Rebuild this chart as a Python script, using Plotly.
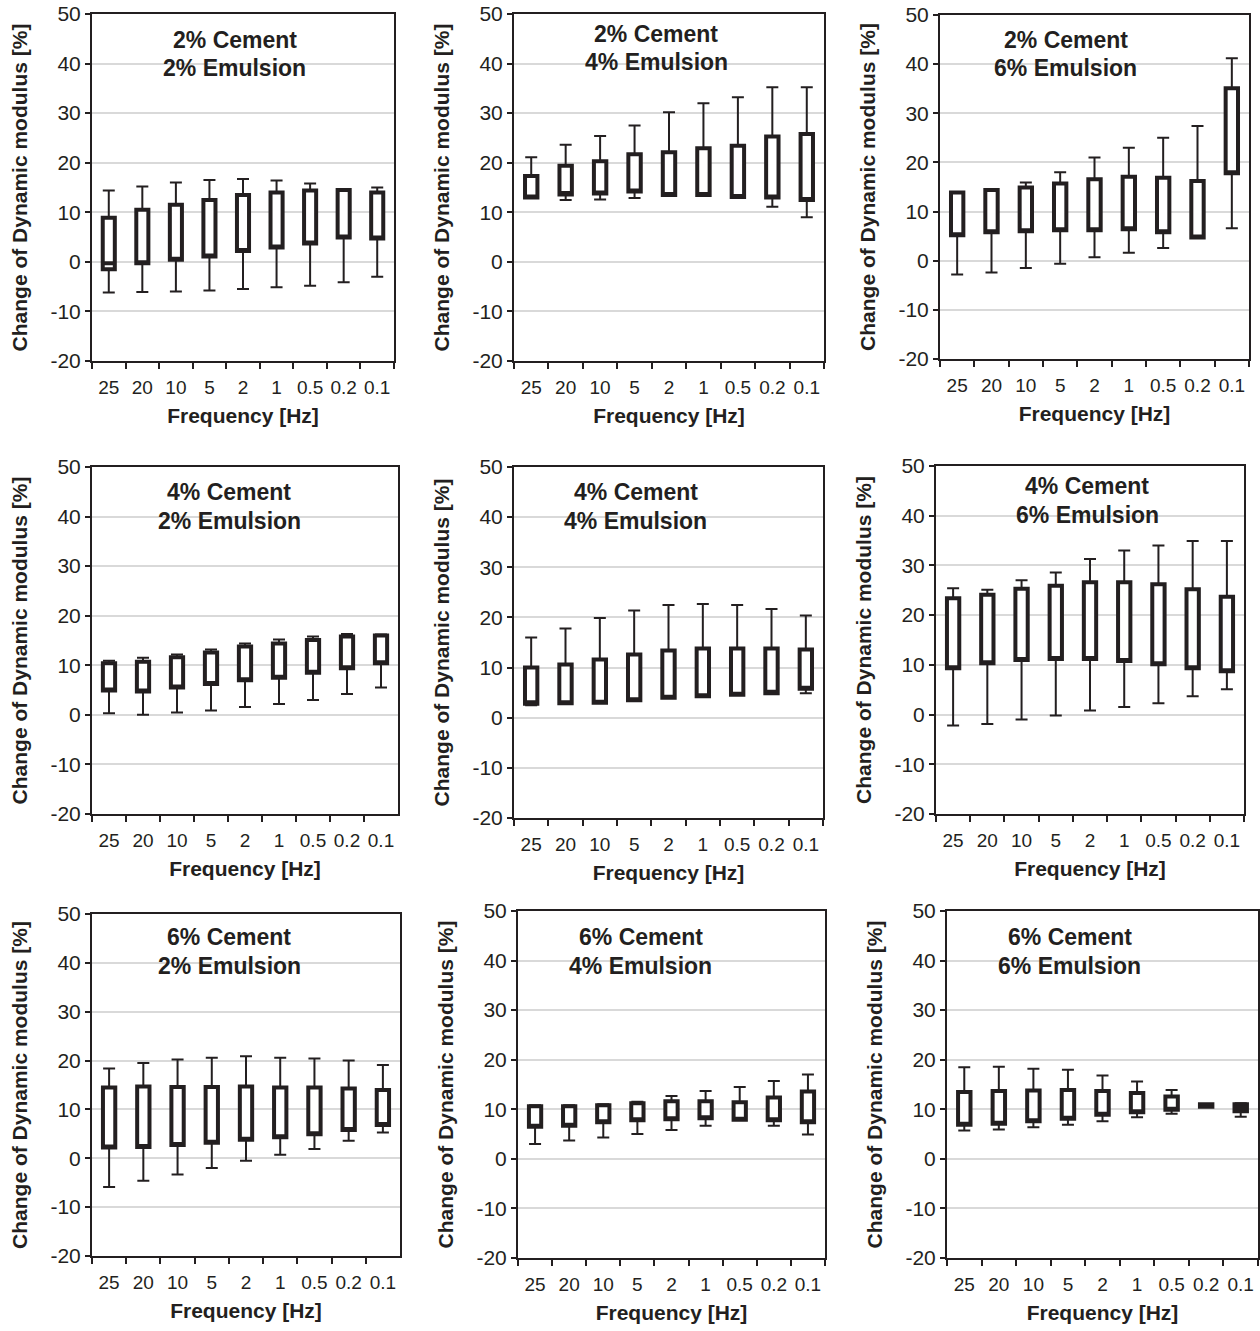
import plotly.graph_objects as go

# ---------------- data ----------------
freqs = ["25", "20", "10", "5", "2", "1", "0.5", "0.2", "0.1"]
y_ticks = [-20, -10, 0, 10, 20, 30, 40, 50]
y_tick_labels = ["-20", "-10", "0", "10", "20", "30", "40", "50"]

titles = [
    ("2% Cement", "2% Emulsion"), ("2% Cement", "4% Emulsion"), ("2% Cement", "6% Emulsion"),
    ("4% Cement", "2% Emulsion"), ("4% Cement", "4% Emulsion"), ("4% Cement", "6% Emulsion"),
    ("6% Cement", "2% Emulsion"), ("6% Cement", "4% Emulsion"), ("6% Cement", "6% Emulsion"),
]

# 2% cement / 2% emulsion
c2e2_max = [14.4, 15.2, 16.0, 16.5, 16.7, 16.4, 15.8, 14.5, 15.0]
c2e2_q3 = [8.9, 10.5, 11.5, 12.5, 13.5, 14.0, 14.4, 14.5, 14.0]
c2e2_med = [-0.3, -0.3, 0.4, 1.1, 2.2, 2.9, 3.7, 4.9, 4.7]
c2e2_q1 = [-1.5, -0.3, 0.4, 1.1, 2.2, 2.9, 3.7, 4.9, 4.7]
c2e2_min = [-6.2, -6.1, -6.0, -5.8, -5.5, -5.1, -4.8, -4.1, -3.0]

# 2% cement / 4% emulsion
c2e4_max = [21.1, 23.6, 25.4, 27.5, 30.2, 32.0, 33.2, 35.2, 35.2]
c2e4_q3 = [17.3, 19.4, 20.3, 21.7, 22.1, 22.9, 23.4, 25.3, 25.8]
c2e4_med = [13.0, 13.9, 14.0, 14.2, 13.5, 13.5, 13.1, 13.0, 12.5]
c2e4_q1 = [13.0, 13.6, 13.8, 14.2, 13.5, 13.5, 13.1, 13.0, 12.5]
c2e4_min = [13.0, 12.5, 12.6, 12.9, 13.4, 13.4, 13.0, 11.1, 9.0]

# 2% cement / 6% emulsion
c2e6_max = [13.9, 14.4, 15.9, 18.0, 21.0, 23.0, 25.0, 27.4, 41.2]
c2e6_q3 = [13.9, 14.4, 14.9, 15.7, 16.6, 17.1, 16.9, 16.2, 35.1]
c2e6_med = [5.2, 5.8, 6.0, 6.2, 6.2, 6.4, 5.8, 4.7, 17.8]
c2e6_q1 = [5.2, 5.8, 6.0, 6.2, 6.2, 6.4, 5.8, 4.7, 17.8]
c2e6_min = [-2.8, -2.4, -1.5, -0.6, 0.7, 1.6, 2.6, 4.7, 6.6]

# 4% cement / 2% emulsion
c4e2_max = [10.9, 11.5, 12.2, 13.2, 14.4, 15.2, 15.8, 16.3, 16.2]
c4e2_q3 = [10.4, 10.7, 11.6, 12.6, 13.8, 14.4, 15.1, 15.8, 16.0]
c4e2_med = [4.9, 4.7, 5.5, 6.2, 7.0, 7.5, 8.5, 9.4, 10.4]
c4e2_q1 = [4.9, 4.7, 5.5, 6.2, 7.0, 7.5, 8.5, 9.4, 10.4]
c4e2_min = [0.3, 0.0, 0.5, 0.9, 1.6, 2.2, 3.0, 4.2, 5.5]

# 4% cement / 4% emulsion
c4e4_max = [16.0, 17.8, 19.9, 21.4, 22.5, 22.7, 22.5, 21.7, 20.4]
c4e4_q3 = [10.0, 10.6, 11.6, 12.6, 13.4, 13.8, 13.8, 13.8, 13.6]
c4e4_med = [3.1, 2.9, 3.0, 3.5, 4.0, 4.3, 4.6, 5.2, 5.8]
c4e4_q1 = [2.8, 2.9, 3.0, 3.5, 4.0, 4.3, 4.6, 4.9, 5.8]
c4e4_min = [2.5, 2.9, 3.0, 3.5, 4.0, 4.3, 4.6, 4.9, 4.9]

# 4% cement / 6% emulsion
c4e6_max = [25.4, 25.1, 27.0, 28.6, 31.3, 33.0, 34.0, 34.9, 34.9]
c4e6_q3 = [23.4, 24.1, 25.3, 25.9, 26.6, 26.6, 26.2, 25.2, 23.7]
c4e6_med = [9.3, 10.3, 11.0, 11.2, 11.2, 10.8, 10.1, 9.3, 8.7]
c4e6_q1 = [9.3, 10.3, 11.0, 11.2, 11.2, 10.8, 10.1, 9.3, 8.7]
c4e6_min = [-2.2, -1.9, -1.0, -0.2, 0.8, 1.5, 2.3, 3.7, 5.1]

# 6% cement / 2% emulsion
c6e2_max = [18.4, 19.5, 20.2, 20.6, 20.9, 20.6, 20.4, 20.0, 19.1]
c6e2_q3 = [14.5, 14.7, 14.6, 14.6, 14.7, 14.5, 14.5, 14.3, 14.0]
c6e2_med = [2.2, 2.3, 2.7, 3.2, 3.8, 4.3, 4.9, 5.8, 6.8]
c6e2_q1 = [2.2, 2.3, 2.7, 3.2, 3.8, 4.3, 4.9, 5.8, 6.8]
c6e2_min = [-5.9, -4.6, -3.3, -2.0, -0.5, 0.7, 1.9, 3.6, 5.3]

# 6% cement / 4% emulsion
c6e4_max = [10.8, 10.8, 11.0, 11.5, 12.7, 13.7, 14.5, 15.7, 17.0]
c6e4_q3 = [10.6, 10.6, 10.8, 11.2, 11.6, 11.6, 11.4, 12.4, 13.6]
c6e4_med = [6.5, 6.7, 7.4, 7.8, 8.0, 8.2, 7.9, 7.8, 7.4]
c6e4_q1 = [6.5, 6.7, 7.4, 7.8, 8.0, 8.2, 7.9, 7.8, 7.4]
c6e4_min = [3.0, 3.7, 4.3, 5.0, 5.8, 6.7, 7.9, 6.7, 4.9]

# 6% cement / 6% emulsion
c6e6_max = [18.5, 18.6, 18.2, 18.0, 16.8, 15.6, 13.9, 11.0, 11.2]
c6e6_q3 = [13.5, 13.7, 13.8, 13.9, 13.7, 13.3, 12.6, 11.0, 11.0]
c6e6_med = [6.9, 7.1, 7.6, 8.1, 8.9, 9.4, 9.9, 10.5, 10.2]
c6e6_q1 = [6.9, 7.1, 7.6, 8.1, 8.9, 9.4, 9.9, 10.5, 9.6]
c6e6_min = [5.7, 5.9, 6.4, 6.9, 7.6, 8.4, 9.1, 10.5, 8.5]

panels = [
    (c2e2_min, c2e2_q1, c2e2_med, c2e2_q3, c2e2_max),
    (c2e4_min, c2e4_q1, c2e4_med, c2e4_q3, c2e4_max),
    (c2e6_min, c2e6_q1, c2e6_med, c2e6_q3, c2e6_max),
    (c4e2_min, c4e2_q1, c4e2_med, c4e2_q3, c4e2_max),
    (c4e4_min, c4e4_q1, c4e4_med, c4e4_q3, c4e4_max),
    (c4e6_min, c4e6_q1, c4e6_med, c4e6_q3, c4e6_max),
    (c6e2_min, c6e2_q1, c6e2_med, c6e2_q3, c6e2_max),
    (c6e4_min, c6e4_q1, c6e4_med, c6e4_q3, c6e4_max),
    (c6e6_min, c6e6_q1, c6e6_med, c6e6_q3, c6e6_max),
]

# ---------------- layout geometry (page pixels) ----------------
W, H = 1260, 1331
plot_rects = [  # x0, x1, y0(top), y1(bottom)
    (92, 394, 14, 361), (514, 824, 14, 361), (940, 1249, 15, 359),
    (92, 398, 467, 814), (514, 823, 467, 818), (936, 1244, 466, 814),
    (92, 400, 914, 1256), (518, 825, 911, 1258), (947, 1258, 911, 1258),
]
title_pos = [  # (x, y) centres of line 1 and line 2
    ((235, 40), (234, 68)), ((656, 34), (656, 62)), ((1066, 40), (1065, 68)),
    ((229, 492), (229, 521)), ((636, 492), (635, 521)), ((1087, 486), (1087, 515)),
    ((229, 937), (229, 966)), ((641, 937), (640, 966)), ((1070, 937), (1069, 966)),
]


def fx(px):
    return px / W


def fy(py):
    return 1 - py / H


FONT = "Liberation Sans, Arial, sans-serif"
INK = "#231f20"

fig = go.Figure()
layout = dict(
    width=W, height=H, margin=dict(l=0, r=0, t=0, b=0, autoexpand=False),
    paper_bgcolor="white", plot_bgcolor="white", showlegend=False,
    font=dict(family=FONT, color=INK),
    annotations=[],
)

for i, (lo, q1, med, q3, hi) in enumerate(panels):
    n = i + 1
    xa, ya = f"x{n}", f"y{n}"
    # whiskers (drawn as error bars with caps)
    fig.add_trace(go.Scatter(
        x=freqs, y=q3, mode="markers", xaxis=xa, yaxis=ya,
        marker=dict(size=1, color="rgba(0,0,0,0)"), hoverinfo="skip",
        error_y=dict(type="data", symmetric=False,
                     array=[h - q for h, q in zip(hi, q3)], arrayminus=[0] * len(q3),
                     width=6, thickness=2, color=INK),
    ))
    fig.add_trace(go.Scatter(
        x=freqs, y=q1, mode="markers", xaxis=xa, yaxis=ya,
        marker=dict(size=1, color="rgba(0,0,0,0)"), hoverinfo="skip",
        error_y=dict(type="data", symmetric=False,
                     array=[0] * len(q1), arrayminus=[q - l for q, l in zip(q1, lo)],
                     width=6, thickness=2, color=INK),
    ))
    # boxes
    fig.add_trace(go.Box(
        x=freqs, q1=q1, median=med, q3=q3, lowerfence=q1, upperfence=q3,
        xaxis=xa, yaxis=ya, boxpoints=False, width=0.36, whiskerwidth=0,
        line=dict(color=INK, width=4), fillcolor="white",
    ))

    x0, x1, y0, y1 = plot_rects[i]
    layout[f"xaxis{n}"] = dict(
        domain=[fx(x0), fx(x1)], anchor=ya, type="category", automargin=False,
        categoryorder="array", categoryarray=freqs, range=[-0.5, 8.5],
        tickson="boundaries", ticks="outside", ticklen=6, tickwidth=2, tickcolor=INK,
        tickangle=0, ticklabelstandoff=8, ticklabeloverflow="allow",
        showline=True, linecolor=INK, linewidth=2, mirror=True, showgrid=False,
        tickfont=dict(size=19, color=INK, family=FONT),
        title=dict(text="Frequency [Hz]", standoff=12,
                   font=dict(size=21, color=INK, family=FONT, weight="bold")),
        fixedrange=True,
    )
    layout[f"yaxis{n}"] = dict(
        domain=[fy(y1), fy(y0)], anchor=xa, range=[-20, 50], automargin=False,
        tickmode="array", tickvals=y_ticks, ticktext=y_tick_labels,
        ticklabeloverflow="allow",
        ticks="outside", ticklen=5, tickwidth=2, tickcolor=INK,
        showline=True, linecolor=INK, linewidth=2, mirror=True,
        showgrid=True, gridcolor="#d9d9d9", gridwidth=2, zeroline=False,
        tickfont=dict(size=21, color=INK, family=FONT),
        title=dict(text="Change of Dynamic modulus [%]", standoff=17,
                   font=dict(size=21, color=INK, family=FONT, weight="bold")),
        fixedrange=True,
    )
    for txt, (px, py) in zip(titles[i], title_pos[i]):
        layout["annotations"].append(dict(
            text=txt, x=fx(px), y=fy(py), xref="paper", yref="paper",
            xanchor="center", yanchor="middle", showarrow=False,
            font=dict(size=23, color=INK, family=FONT, weight="bold"),
        ))

fig.update_layout(**layout)
# remove the page's default 8px body margin so the figure fills the window exactly
fig.write_html("out.html", config={"displayModeBar": False},
               post_script="document.body.style.margin='0';")
